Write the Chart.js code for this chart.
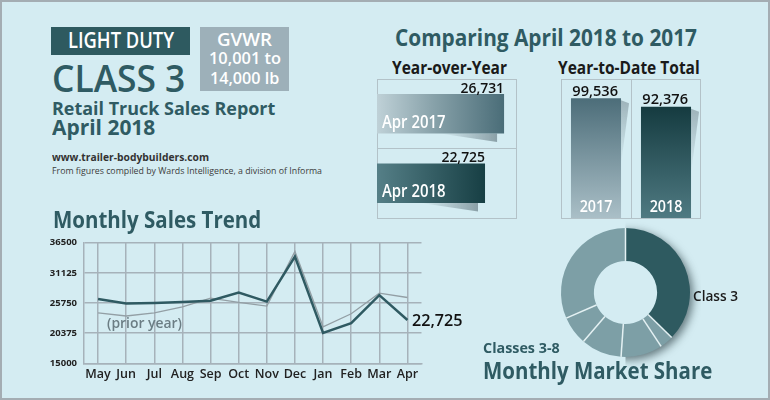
<!DOCTYPE html>
<html><head><meta charset="utf-8">
<script src="https://cdn.jsdelivr.net/npm/chart.js@4.4.1/dist/chart.umd.min.js"></script>
<style>
html,body{margin:0;padding:0;background:#d4ecf2;}
#wrap{position:relative;width:770px;height:400px;background:#d4ecf2;overflow:hidden;font-family:"Open Sans","Noto Sans",sans-serif;}
.t{position:absolute;white-space:nowrap;line-height:1;transform-origin:0 0;}
.box{position:absolute;box-sizing:border-box;}
canvas{position:absolute;}
#frame{position:absolute;left:0;top:0;width:770px;height:400px;box-sizing:border-box;border:2px solid #a4adb3;pointer-events:none;}
</style></head>
<body>
<div id="wrap">
  <div class="box" style="left:51px;top:27px;width:139px;height:28px;background:#2e5a60"></div>
  <div class="box" style="left:200px;top:27px;width:89px;height:64px;background:#9db0b9"></div>
  <div class="box" style="left:377px;top:79px;width:140px;height:140px;border:1px solid #b3c2c8"></div>
  <div class="box" style="left:377px;top:148px;width:140px;height:1px;background:#b3c2c8"></div>
  <div class="box" style="left:561px;top:79px;width:140px;height:140px;border:1px solid #b3c2c8"></div>
  <div class="box" style="left:631px;top:79px;width:1px;height:140px;background:#b3c2c8"></div>
  <canvas id="trend" width="470" height="170" style="left:0;top:230px"></canvas>
  <canvas id="yoy" width="140" height="139" style="left:377px;top:79px"></canvas>
  <canvas id="ytd" width="140" height="139" style="left:561px;top:79px"></canvas>
  <canvas id="share" width="151" height="151" style="left:550px;top:217px"></canvas>
  <div id="texts"></div>
  <div id="frame"></div>
</div>
<script>
// ---------- DATA ----------
const months = ['May','Jun','Jul','Aug','Sep','Oct','Nov','Dec','Jan','Feb','Mar','Apr'];
const salesThisYear  = [26450, 25650, 25750, 25920, 26170, 27620, 26000, 34020, 20400, 22160, 27150, 22725];
const salesPriorYear = [24000, 23430, 24000, 25050, 26620, 25870, 25200, 34940, 21510, 23830, 27500, 26731];
const yAxisTicks = [15000, 20375, 25750, 31125, 36500];
const yoyLabels = ['Apr 2017', 'Apr 2018'];
const yoyValues = [26731, 22725];
const ytdLabels = ['2017', '2018'];
const ytdValues = [99536, 92376];
const shareLabels = ['Class 3', 'Class 4', 'Class 5', 'Class 6', 'Class 7', 'Class 8'];
const shareValues = [37.3, 3.4, 10.4, 10.2, 7.2, 31.5];

// ---------- HELPERS ----------
const FAM = '"Open Sans","Noto Sans",sans-serif';
const TEAL = '#2f5b63';
const fmt = v => v.toLocaleString('en-US');
const mctx = document.createElement('canvas').getContext('2d');

function drawFit(ctx, text, x, y, font, color, width, align) {
  ctx.save();
  ctx.font = font; ctx.fillStyle = color; ctx.textBaseline = 'alphabetic'; ctx.textAlign = 'left';
  const w = ctx.measureText(text).width;
  const sx = width / w;
  const x0 = align === 'right' ? x - width : align === 'center' ? x - width / 2 : x;
  ctx.translate(x0, y); ctx.scale(sx, 1); ctx.fillText(text, 0, 0);
  ctx.restore();
}

function addText(txt, x, base, size, weight, color, width, align) {
  const font = weight + ' ' + size + 'px ' + FAM;
  mctx.font = font;
  const nat = mctx.measureText(txt).width;
  const sx = width / nat;
  const d = document.createElement('div');
  d.className = 't';
  d.textContent = txt;
  d.style.font = font;
  d.style.lineHeight = size + 'px';
  d.style.color = color;
  const left = align === 'center' ? x - width / 2 : x;
  d.style.left = left + 'px';
  d.style.top = (base - 0.888 * size) + 'px';
  d.style.transform = 'scaleX(' + sx + ')';
  document.getElementById('texts').appendChild(d);
}

// ---------- HEADINGS ----------
addText('LIGHT DUTY', 121, 48.3, 21, 600, '#ffffff', 106, 'center');
addText('GVWR', 244.5, 46, 18.5, 600, '#ffffff', 55, 'center');
addText('10,001 to', 245, 65, 16.5, 600, '#ffffff', 72, 'center');
addText('14,000 lb', 244.7, 85, 16.5, 600, '#ffffff', 69.3, 'center');
addText('CLASS 3', 51.7, 91.7, 37, 600, TEAL, 133.3, 'left');
addText('Retail Truck Sales Report', 51.7, 116, 17.8, 700, TEAL, 223.3, 'left');
addText('April 2018', 51.7, 135, 22, 700, TEAL, 103.3, 'left');
addText('www.trailer-bodybuilders.com', 51.7, 160.5, 11, 700, '#333333', 157, 'left');
addText('From figures compiled by Wards Intelligence, a division of Informa', 51.7, 173.5, 9, 400, '#3c3c3c', 270, 'left');
addText('Comparing April 2018 to 2017', 395, 46.7, 23, 700, TEAL, 302, 'left');
addText('Year-over-Year', 391.7, 74, 17, 700, '#1a1a1a', 115, 'left');
addText('Year-to-Date Total', 558.3, 74, 17, 700, '#1a1a1a', 141.7, 'left');
addText('Monthly Sales Trend', 52.7, 228.3, 23, 700, TEAL, 208.3, 'left');
addText('(prior year)', 106.7, 328.7, 13.5, 600, '#6b7d84', 75, 'left');
addText('Class 3', 693, 301.7, 15, 600, '#1a1a1a', 45, 'left');
addText('Classes 3-8', 483.3, 353.3, 14, 700, TEAL, 76.7, 'left');
addText('Monthly Market Share', 483.3, 379.5, 23, 700, TEAL, 229.3, 'left');

Chart.defaults.font.family = FAM;

// ---------- LINE CHART ----------
const GRID = '#a6b2ba';
new Chart(document.getElementById('trend'), {
  type: 'line',
  data: {
    labels: months,
    datasets: [
      { data: salesThisYear, borderColor: '#2f5a62', borderWidth: 2.5, pointRadius: 0, tension: 0, fill: false },
      { data: salesPriorYear, borderColor: '#939fa5', borderWidth: 1.3, pointRadius: 0, tension: 0, fill: false }
    ]
  },
  options: {
    responsive: false, animation: false,
    layout: { padding: { top: 10.5, right: 48.5, left: 0, bottom: 0 } },
    plugins: { legend: { display: false }, tooltip: { enabled: false } },
    scales: {
      x: {
        offset: true,
        grid: { offset: false, color: GRID, lineWidth: 1.5, drawTicks: false },
        border: { display: true, color: GRID, width: 1.5 },
        ticks: { padding: 4, color: '#222', font: { size: 12.5, weight: 600 }, maxRotation: 0, autoSkip: false },
        afterFit: s => { s.height = 36.7; }
      },
      y: {
        min: yAxisTicks[0], max: yAxisTicks[yAxisTicks.length - 1],
        afterBuildTicks: s => { s.ticks = yAxisTicks.map(v => ({ value: v })); },
        grid: { color: GRID, lineWidth: 1.5, drawTicks: false },
        border: { display: true, color: GRID, width: 1.5 },
        ticks: { padding: 7, color: '#222', font: { size: 9.5, weight: 700 }, callback: v => String(v) },
        afterFit: s => { s.width = 84; }
      }
    }
  },
  plugins: [{
    id: 'lastLabel',
    afterDatasetsDraw(chart) {
      const meta = chart.getDatasetMeta(0);
      const i = salesThisYear.length - 1;
      const p = meta.data[i];
      drawFit(chart.ctx, fmt(salesThisYear[i]), p.x + 4.5, p.y + 6.3, '600 16px ' + FAM, '#111', 50.6, 'left');
    }
  }]
});

// ---------- YEAR-OVER-YEAR (horizontal bars) ----------
new Chart(document.getElementById('yoy'), {
  type: 'bar',
  data: {
    labels: yoyLabels,
    datasets: [{
      data: yoyValues,
      borderWidth: 0,
      barPercentage: 0.565, categoryPercentage: 1,
      backgroundColor: c => {
        const ch = c.chart;
        if (!ch.chartArea) return '#5a7d86';
        const xs = ch.scales.x;
        const x0 = xs.getPixelForValue(0), x1 = xs.getPixelForValue(c.raw);
        const g = ch.ctx.createLinearGradient(x0, 0, x1, 0);
        if (c.dataIndex === 0) { g.addColorStop(0, '#bfd1d7'); g.addColorStop(0.45, '#87a1a9'); g.addColorStop(1, '#4a6d78'); }
        else { g.addColorStop(0, '#557f87'); g.addColorStop(1, '#173f44'); }
        return g;
      }
    }]
  },
  options: {
    indexAxis: 'y', responsive: false, animation: false,
    layout: { padding: 0 },
    plugins: { legend: { display: false }, tooltip: { enabled: false } },
    scales: { x: { display: false, min: 0, max: 29450 }, y: { display: false } }
  },
  plugins: [{
    id: 'yoyDeco',
    beforeDatasetsDraw(chart) {
      const ctx = chart.ctx;
      chart.getDatasetMeta(0).data.forEach(b => {
        const p = b.getProps(['x', 'y', 'base', 'height']);
        const bottom = p.y + p.height / 2, right = p.x - 7, left = p.x - 64;
        const g = ctx.createLinearGradient(left, 0, right, 0);
        g.addColorStop(0, 'rgba(90,110,118,0)'); g.addColorStop(1, 'rgba(90,110,118,0.6)');
        ctx.save(); ctx.fillStyle = g;
        ctx.beginPath(); ctx.moveTo(left, bottom); ctx.lineTo(right, bottom); ctx.lineTo(right, bottom + 8.5); ctx.closePath(); ctx.fill();
        ctx.restore();
      });
    },
    afterDatasetsDraw(chart) {
      const ctx = chart.ctx;
      chart.getDatasetMeta(0).data.forEach((b, i) => {
        const p = b.getProps(['x', 'y', 'base', 'height']);
        const top = p.y - p.height / 2, bottom = p.y + p.height / 2;
        drawFit(ctx, fmt(yoyValues[i]), p.x, top - 1.5, '600 14px ' + FAM, '#111', 43.6, 'right');
        drawFit(ctx, yoyLabels[i], p.base + 5, bottom - 5.6, '600 17.6px ' + FAM, '#ffffff', 63.5, 'left');
      });
    }
  }]
});

// ---------- YEAR-TO-DATE (vertical bars) ----------
new Chart(document.getElementById('ytd'), {
  type: 'bar',
  data: {
    labels: ytdLabels,
    datasets: [{
      data: ytdValues,
      borderWidth: 0,
      barPercentage: 0.715, categoryPercentage: 1,
      backgroundColor: c => {
        const ch = c.chart;
        if (!ch.chartArea) return '#5a7d86';
        const ys = ch.scales.y;
        const y0 = ys.getPixelForValue(c.raw), y1 = ys.getPixelForValue(0);
        const g = ch.ctx.createLinearGradient(0, y0, 0, y1);
        if (c.dataIndex === 0) { g.addColorStop(0, '#4c6d79'); g.addColorStop(1, '#aabfc7'); }
        else { g.addColorStop(0, '#153b40'); g.addColorStop(1, '#4f7a82'); }
        return g;
      }
    }]
  },
  options: {
    responsive: false, animation: false,
    layout: { padding: 0 },
    plugins: { legend: { display: false }, tooltip: { enabled: false } },
    scales: { x: { display: false }, y: { display: false, min: 0, max: 115500 } }
  },
  plugins: [{
    id: 'ytdDeco',
    beforeDatasetsDraw(chart) {
      const ctx = chart.ctx;
      chart.getDatasetMeta(0).data.forEach(b => {
        const p = b.getProps(['x', 'y', 'base', 'width']);
        const right = p.x + p.width / 2;
        const g = ctx.createLinearGradient(0, p.y, 0, p.y + 65);
        g.addColorStop(0, 'rgba(110,130,138,0.55)'); g.addColorStop(1, 'rgba(110,130,138,0)');
        ctx.save(); ctx.fillStyle = g;
        ctx.beginPath(); ctx.moveTo(right, p.y + 2); ctx.lineTo(right + 8, p.y + 5); ctx.lineTo(right, p.y + 66); ctx.closePath(); ctx.fill();
        ctx.restore();
      });
    },
    afterDatasetsDraw(chart) {
      const ctx = chart.ctx;
      chart.getDatasetMeta(0).data.forEach((b, i) => {
        const p = b.getProps(['x', 'y', 'base', 'width']);
        drawFit(ctx, fmt(ytdValues[i]), p.x - 0.8, p.y - 2.6, '600 15px ' + FAM, '#111', 45.7, 'center');
        drawFit(ctx, ytdLabels[i], p.x, p.base - 6, '600 16px ' + FAM, '#ffffff', 32.7, 'center');
      });
    }
  }]
});

// ---------- DOUGHNUT ----------
new Chart(document.getElementById('share'), {
  type: 'doughnut',
  data: {
    labels: shareLabels,
    datasets: [{
      data: shareValues,
      backgroundColor: shareLabels.map((l, i) => i === 0 ? '#2e5a60' : '#7d9fa6'),
      borderWidth: 0
    }]
  },
  options: {
    responsive: false, animation: false, cutout: '49%',
    layout: { padding: 11 },
    plugins: { legend: { display: false }, tooltip: { enabled: false } }
  },
  plugins: [{
    id: 'ringDeco',
    beforeDatasetsDraw(chart) {
      const ctx = chart.ctx;
      const W = chart.width, H = chart.height;
      const a = chart.getDatasetMeta(0).data[0];
      const { x, y, outerRadius: R, innerRadius: r } = a.getProps(['x', 'y', 'outerRadius', 'innerRadius']);
      ctx.save();
      ctx.beginPath();
      ctx.rect(x, 0, W - x, H);
      ctx.clip();
      ctx.beginPath();
      ctx.rect(0, 0, W, H);
      ctx.moveTo(x + r + 1, y);
      ctx.arc(x, y, r + 1, 0, Math.PI * 2);
      ctx.closePath();
      ctx.clip('evenodd');
      ctx.shadowColor = 'rgba(25,45,50,0.6)';
      ctx.shadowBlur = 9;
      ctx.shadowOffsetX = 2000 + 3;
      ctx.shadowOffsetY = 3;
      ctx.fillStyle = '#000';
      ctx.beginPath(); ctx.arc(x - 2000, y, R, 0, Math.PI * 2); ctx.fill();
      ctx.restore();
    },
    afterDatasetsDraw(chart) {
      const ctx = chart.ctx;
      const arcs = chart.getDatasetMeta(0).data;
      ctx.save();
      ctx.strokeStyle = '#e4f1f3'; ctx.lineWidth = 1.5;
      arcs.forEach(a => {
        const p = a.getProps(['x', 'y', 'startAngle', 'outerRadius', 'innerRadius']);
        ctx.beginPath();
        ctx.moveTo(p.x + Math.cos(p.startAngle) * p.innerRadius, p.y + Math.sin(p.startAngle) * p.innerRadius);
        ctx.lineTo(p.x + Math.cos(p.startAngle) * p.outerRadius, p.y + Math.sin(p.startAngle) * p.outerRadius);
        ctx.stroke();
      });
      ctx.restore();
    }
  }]
});
</script>
</body></html>
